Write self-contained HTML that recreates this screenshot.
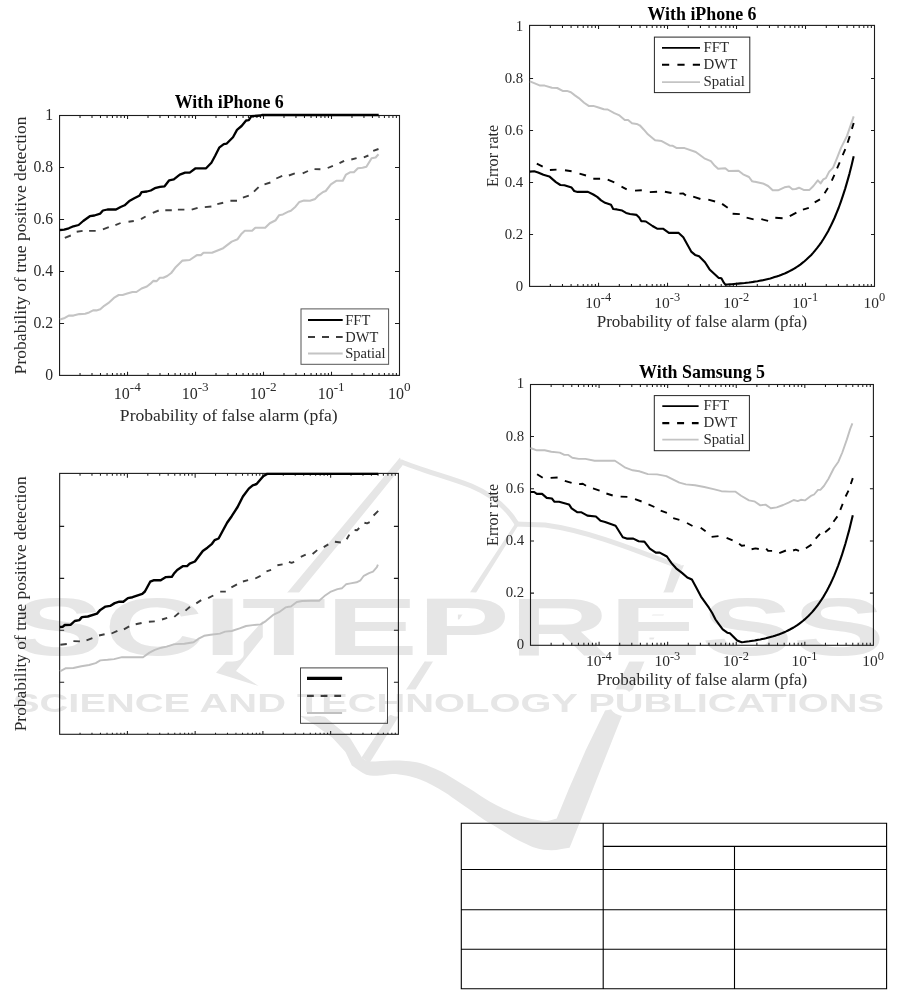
<!DOCTYPE html>
<html><head><meta charset="utf-8"><title>Figure page</title>
<style>
html,body{margin:0;padding:0;background:#fff;}
body{width:916px;height:990px;overflow:hidden;}
svg{display:block;filter:grayscale(1);font-family:"Liberation Serif",serif;}
</style></head><body>
<svg width="916" height="990" viewBox="0 0 916 990">
<rect width="916" height="990" fill="#fff"/>
<g fill="#e6e6e6" stroke="none">
<polygon points="400.0,457.5 290.3,589.0 260.3,623.8 216.0,672.7 258.6,686.0 236.0,671.0 267.0,632.0 302.0,589.0 350.0,530.6 402.5,465.5"/>
<path d="M400.5 461.5 C420 470 450 477.5 471.4 486 Q502 499 517 524" fill="none" stroke="#e6e6e6" stroke-width="5"/>
<polygon points="515.5,523.0 518.5,525.0 369.5,763.0 361.5,757.5"/>
<path d="M515 524 L545 525 C590 531 640 552 680 567" fill="none" stroke="#e6e6e6" stroke-width="5"/>
<polygon points="684.0,565.0 674.4,589.0 621.1,718.0 596.2,780.7 580.7,820.3 569.6,847.7 569.6,847.7 566.3,848.3 561.5,849.1 556.3,849.9 551.5,850.3 547.4,850.1 543.4,849.7 539.6,848.9 536.0,848.0 532.6,846.9 529.3,845.5 526.2,844.1 523.0,842.5 519.8,840.9 516.5,839.2 513.2,837.4 510.0,835.5 506.8,833.6 503.5,831.5 500.2,829.5 497.0,827.5 493.8,825.6 490.5,823.7 487.2,821.8 484.0,819.8 480.8,817.6 477.5,815.2 474.2,812.8 471.0,810.5 467.8,808.2 464.5,806.0 461.2,803.7 458.0,801.5 454.8,799.2 451.5,796.9 448.2,794.6 445.0,792.5 441.7,790.5 438.4,788.5 435.2,786.7 432.0,785.0 429.0,783.4 426.1,782.0 423.1,780.7 420.0,779.5 416.6,778.3 413.1,777.2 409.5,776.3 406.0,775.5 402.6,774.9 399.2,774.4 395.8,774.1 392.5,774.0 389.3,774.2 386.3,774.7 383.2,775.2 380.0,775.5 376.7,775.7 373.3,775.8 369.8,775.5 366.3,774.7 362.4,772.8 358.2,770.0 354.4,767.3 351.8,765.5 345.5,751.9 332.4,737.8 316.0,725.7 300.0,716.0 324.0,716.0 336.8,726.8 349.9,737.8 361.9,757.4 365.0,760.0 365.7,760.3 366.7,760.8 368.3,761.3 371.0,761.5 375.5,761.4 381.3,761.1 387.3,760.7 392.5,760.5 396.4,760.5 399.7,760.6 402.8,760.7 406.0,761.0 409.5,761.3 413.1,761.8 416.6,762.3 420.0,763.0 423.1,763.9 426.1,765.0 429.0,766.2 432.0,767.5 435.2,768.8 438.4,770.3 441.7,771.8 445.0,773.5 448.2,775.4 451.5,777.4 454.8,779.5 458.0,781.5 461.2,783.5 464.5,785.5 467.8,787.5 471.0,789.5 474.2,791.6 477.5,793.8 480.8,795.9 484.0,798.0 487.2,800.0 490.5,801.9 493.8,803.8 497.0,805.5 500.2,807.1 503.5,808.7 506.8,810.1 510.0,811.5 513.2,812.9 516.5,814.2 519.8,815.4 523.0,816.5 526.3,817.5 529.6,818.4 532.9,819.2 536.0,819.8 538.9,820.3 541.7,820.8 544.4,821.0 547.0,821.0 549.7,820.6 552.5,819.8 555.0,819.0 556.7,818.5 568.7,789.3 585.9,749.8 601.4,718.0 665.0,589.0 672.0,567.0"/>
</g>
<g font-family="&quot;Liberation Sans&quot;,sans-serif" font-weight="bold" fill="#e6e6e6" stroke="#fff" stroke-linejoin="round" paint-order="stroke">
<text x="12" y="655" font-size="81" stroke-width="13" textLength="873" lengthAdjust="spacingAndGlyphs">SCITEPRESS</text>
<text x="13" y="711.5" font-size="25.8" stroke-width="9" textLength="871" lengthAdjust="spacingAndGlyphs">SCIENCE AND TECHNOLOGY PUBLICATIONS</text>
</g>
<rect x="59.56" y="115.50" width="339.94" height="259.90" fill="none" stroke="#1c1c1c" stroke-width="1.1"/>
<path d="M80.03 375.40 v-2.50 M80.03 115.50 v2.50 M92.00 375.40 v-2.50 M92.00 115.50 v2.50 M100.49 375.40 v-2.50 M100.49 115.50 v2.50 M107.08 375.40 v-2.50 M107.08 115.50 v2.50 M112.46 375.40 v-2.50 M112.46 115.50 v2.50 M117.02 375.40 v-2.50 M117.02 115.50 v2.50 M120.96 375.40 v-2.50 M120.96 115.50 v2.50 M124.44 375.40 v-2.50 M124.44 115.50 v2.50 M127.55 375.40 v-3.60 M127.55 115.50 v3.60 M148.01 375.40 v-2.50 M148.01 115.50 v2.50 M159.99 375.40 v-2.50 M159.99 115.50 v2.50 M168.48 375.40 v-2.50 M168.48 115.50 v2.50 M175.07 375.40 v-2.50 M175.07 115.50 v2.50 M180.45 375.40 v-2.50 M180.45 115.50 v2.50 M185.00 375.40 v-2.50 M185.00 115.50 v2.50 M188.95 375.40 v-2.50 M188.95 115.50 v2.50 M192.43 375.40 v-2.50 M192.43 115.50 v2.50 M195.54 375.40 v-3.60 M195.54 115.50 v3.60 M216.00 375.40 v-2.50 M216.00 115.50 v2.50 M227.97 375.40 v-2.50 M227.97 115.50 v2.50 M236.47 375.40 v-2.50 M236.47 115.50 v2.50 M243.06 375.40 v-2.50 M243.06 115.50 v2.50 M248.44 375.40 v-2.50 M248.44 115.50 v2.50 M252.99 375.40 v-2.50 M252.99 115.50 v2.50 M256.94 375.40 v-2.50 M256.94 115.50 v2.50 M260.41 375.40 v-2.50 M260.41 115.50 v2.50 M263.52 375.40 v-3.60 M263.52 115.50 v3.60 M283.99 375.40 v-2.50 M283.99 115.50 v2.50 M295.96 375.40 v-2.50 M295.96 115.50 v2.50 M304.46 375.40 v-2.50 M304.46 115.50 v2.50 M311.05 375.40 v-2.50 M311.05 115.50 v2.50 M316.43 375.40 v-2.50 M316.43 115.50 v2.50 M320.98 375.40 v-2.50 M320.98 115.50 v2.50 M324.92 375.40 v-2.50 M324.92 115.50 v2.50 M328.40 375.40 v-2.50 M328.40 115.50 v2.50 M331.51 375.40 v-3.60 M331.51 115.50 v3.60 M351.98 375.40 v-2.50 M351.98 115.50 v2.50 M363.95 375.40 v-2.50 M363.95 115.50 v2.50 M372.44 375.40 v-2.50 M372.44 115.50 v2.50 M379.03 375.40 v-2.50 M379.03 115.50 v2.50 M384.42 375.40 v-2.50 M384.42 115.50 v2.50 M388.97 375.40 v-2.50 M388.97 115.50 v2.50 M392.91 375.40 v-2.50 M392.91 115.50 v2.50 M396.39 375.40 v-2.50 M396.39 115.50 v2.50 M59.56 323.40 h4.5 M399.50 323.40 h-4.5 M59.56 271.40 h4.5 M399.50 271.40 h-4.5 M59.56 219.40 h4.5 M399.50 219.40 h-4.5 M59.56 167.40 h4.5 M399.50 167.40 h-4.5" stroke="#1c1c1c" stroke-width="1.05" fill="none"/>
<text x="229.3" y="107.8" font-size="17.9" font-weight="bold" text-anchor="middle" fill="#000">With iPhone 6</text>
<text x="113.8" y="398.9" font-size="16.0" fill="#2a2a2a">10<tspan dy="-8.2" font-size="13.2">-4</tspan></text>
<text x="181.7" y="398.9" font-size="16.0" fill="#2a2a2a">10<tspan dy="-8.2" font-size="13.2">-3</tspan></text>
<text x="249.7" y="398.9" font-size="16.0" fill="#2a2a2a">10<tspan dy="-8.2" font-size="13.2">-2</tspan></text>
<text x="317.7" y="398.9" font-size="16.0" fill="#2a2a2a">10<tspan dy="-8.2" font-size="13.2">-1</tspan></text>
<text x="387.9" y="398.9" font-size="16.0" fill="#2a2a2a">10<tspan dy="-8.2" font-size="13.2">0</tspan></text>
<text x="228.8" y="421.2" font-size="17.6" text-anchor="middle" fill="#2a2a2a">Probability of false alarm (pfa)</text>
<text x="53.1" y="380.4" font-size="15.7" text-anchor="end" fill="#2a2a2a">0</text>
<text x="53.1" y="328.4" font-size="15.7" text-anchor="end" fill="#2a2a2a">0.2</text>
<text x="53.1" y="276.4" font-size="15.7" text-anchor="end" fill="#2a2a2a">0.4</text>
<text x="53.1" y="224.4" font-size="15.7" text-anchor="end" fill="#2a2a2a">0.6</text>
<text x="53.1" y="172.4" font-size="15.7" text-anchor="end" fill="#2a2a2a">0.8</text>
<text x="53.1" y="120.4" font-size="15.7" text-anchor="end" fill="#2a2a2a">1</text>
<text transform="translate(26.4 245.4) rotate(-90)" font-size="17.6" text-anchor="middle" fill="#2a2a2a">Probability of true positive detection</text>
<polyline points="59.9,319.6 64.8,317.9 68.8,315.6 73.4,315.6 79.3,314.1 85.2,313.8 89.1,312.4 93.1,310.4 96.4,310.4 100.3,309.3 104.2,305.8 108.2,303.2 111.5,300.2 114.7,297.3 118.7,295.0 122.6,295.0 127.2,293.6 132.5,292.0 136.4,292.0 141.6,288.5 146.9,286.5 150.2,283.9 153.2,280.9 156.7,281.1 159.8,277.8 163.3,277.8 167.2,276.0 171.2,273.0 173.8,269.7 175.9,266.9 182.5,260.6 189.7,260.0 196.9,255.1 200.9,255.1 203.5,252.8 212.0,252.8 223.2,248.2 231.7,241.6 237.6,239.2 241.6,233.7 244.8,230.7 252.1,230.7 255.3,227.8 265.2,227.8 269.8,223.2 275.7,220.2 279.0,215.3 282.9,214.4 288.8,211.4 290.9,210.7 295.5,206.7 299.4,201.9 304.0,200.6 309.9,200.8 315.2,198.9 318.5,195.3 323.1,192.0 325.7,191.0 330.9,184.4 336.2,180.8 342.8,180.8 346.0,174.6 350.0,172.3 353.9,172.3 357.9,168.3 362.5,167.8 366.4,166.7 371.6,158.2 375.6,157.5 378.5,154.2" fill="none" stroke="#c4c4c4" stroke-width="2.10" stroke-linejoin="round" stroke-linecap="butt"/>
<path d="M64.8 237.9 L70.8 235.5 M76.7 231.8 L82.6 230.9 M89.1 230.9 L95.7 230.9 M102.9 229.3 L108.8 227.2 M115.4 225.2 L120.6 223.0 M128.5 221.7 L133.8 221.0 M141.0 219.1 L145.6 216.5 M152.8 212.8 L158.7 210.5 M165.3 210.3 L171.8 210.3 M177.9 209.6 L184.4 209.6 M191.7 209.6 L197.6 207.8 M204.8 207.1 L211.4 206.5 M217.3 204.1 L223.2 202.8 M230.4 200.8 L237.0 200.8 M242.9 197.6 L248.8 195.6 M254.0 191.6 L258.6 187.1 M264.5 184.4 L270.4 182.5 M276.3 178.5 L282.2 175.9 M288.9 175.5 L294.8 173.3 M302.7 173.3 L308.0 171.0 M314.5 169.1 L320.4 169.3 M327.7 168.0 L332.9 165.8 M339.5 163.2 L344.1 160.8 M351.3 159.5 L356.6 158.2 M363.8 157.3 L368.4 155.5 M373.2 150.9 L378.5 149.0" fill="none" stroke="#3d3d3d" stroke-width="1.90" stroke-linejoin="round"/>
<polyline points="59.9,230.0 64.2,229.6 68.8,228.3 73.4,226.3 78.6,225.0 83.2,221.0 89.8,216.2 94.4,215.5 100.3,213.6 102.9,210.5 107.5,209.5 116.0,209.5 120.6,207.0 124.6,205.3 129.8,200.7 133.8,198.5 139.7,195.4 141.6,192.2 146.9,191.5 150.8,190.5 154.8,188.2 160.0,186.9 164.6,186.3 169.2,180.3 173.8,179.4 179.8,174.6 185.1,172.6 189.7,172.6 195.6,168.3 206.1,168.3 211.4,162.8 215.3,155.5 219.2,147.7 223.8,144.1 226.5,143.7 233.0,137.2 237.0,129.9 241.6,126.0 246.1,120.5 248.8,120.1 251.4,116.2 260.6,115.5 261.9,115.0 290.0,115.0 378.7,115.0" fill="none" stroke="#000" stroke-width="2.30" stroke-linejoin="round" stroke-linecap="butt"/>
<rect x="301.0" y="308.9" width="87.6" height="55.4" fill="none" stroke="#555" stroke-width="1"/>
<line x1="308.0" y1="320.0" x2="342.7" y2="320.0" stroke="#000" stroke-width="2.00"/>
<line x1="308.0" y1="337.0" x2="342.7" y2="337.0" stroke="#3d3d3d" stroke-width="2.00" stroke-dasharray="7 7"/>
<line x1="308.0" y1="353.6" x2="342.7" y2="353.6" stroke="#c4c4c4" stroke-width="2.00"/>
<text x="345.3" y="324.5" font-size="14.5" fill="#2a2a2a">FFT</text>
<text x="345.3" y="341.5" font-size="14.5" fill="#2a2a2a">DWT</text>
<text x="345.3" y="358.0" font-size="14.5" fill="#2a2a2a">Spatial</text>
<rect x="59.65" y="473.40" width="338.75" height="260.90" fill="none" stroke="#1c1c1c" stroke-width="1.1"/>
<path d="M80.04 734.30 v-1.50 M80.04 473.40 v2.40 M91.97 734.30 v-1.50 M91.97 473.40 v2.40 M100.44 734.30 v-1.50 M100.44 473.40 v2.40 M107.01 734.30 v-1.50 M107.01 473.40 v2.40 M112.37 734.30 v-1.50 M112.37 473.40 v2.40 M116.91 734.30 v-1.50 M116.91 473.40 v2.40 M120.83 734.30 v-1.50 M120.83 473.40 v2.40 M124.30 734.30 v-1.50 M124.30 473.40 v2.40 M127.40 734.30 v-3.30 M127.40 473.40 v4.40 M147.79 734.30 v-1.50 M147.79 473.40 v2.40 M159.72 734.30 v-1.50 M159.72 473.40 v2.40 M168.19 734.30 v-1.50 M168.19 473.40 v2.40 M174.76 734.30 v-1.50 M174.76 473.40 v2.40 M180.12 734.30 v-1.50 M180.12 473.40 v2.40 M184.66 734.30 v-1.50 M184.66 473.40 v2.40 M188.58 734.30 v-1.50 M188.58 473.40 v2.40 M192.05 734.30 v-1.50 M192.05 473.40 v2.40 M195.15 734.30 v-3.30 M195.15 473.40 v4.40 M215.54 734.30 v-1.50 M215.54 473.40 v2.40 M227.47 734.30 v-1.50 M227.47 473.40 v2.40 M235.94 734.30 v-1.50 M235.94 473.40 v2.40 M242.51 734.30 v-1.50 M242.51 473.40 v2.40 M247.87 734.30 v-1.50 M247.87 473.40 v2.40 M252.41 734.30 v-1.50 M252.41 473.40 v2.40 M256.33 734.30 v-1.50 M256.33 473.40 v2.40 M259.80 734.30 v-1.50 M259.80 473.40 v2.40 M262.90 734.30 v-3.30 M262.90 473.40 v4.40 M283.29 734.30 v-1.50 M283.29 473.40 v2.40 M295.22 734.30 v-1.50 M295.22 473.40 v2.40 M303.69 734.30 v-1.50 M303.69 473.40 v2.40 M310.26 734.30 v-1.50 M310.26 473.40 v2.40 M315.62 734.30 v-1.50 M315.62 473.40 v2.40 M320.16 734.30 v-1.50 M320.16 473.40 v2.40 M324.08 734.30 v-1.50 M324.08 473.40 v2.40 M327.55 734.30 v-1.50 M327.55 473.40 v2.40 M330.65 734.30 v-3.30 M330.65 473.40 v4.40 M351.04 734.30 v-1.50 M351.04 473.40 v2.40 M362.97 734.30 v-1.50 M362.97 473.40 v2.40 M371.44 734.30 v-1.50 M371.44 473.40 v2.40 M378.01 734.30 v-1.50 M378.01 473.40 v2.40 M383.37 734.30 v-1.50 M383.37 473.40 v2.40 M387.91 734.30 v-1.50 M387.91 473.40 v2.40 M391.83 734.30 v-1.50 M391.83 473.40 v2.40 M395.30 734.30 v-1.50 M395.30 473.40 v2.40 M59.65 682.32 h4.5 M398.40 682.32 h-4.5 M59.65 630.34 h4.5 M398.40 630.34 h-4.5 M59.65 578.36 h4.5 M398.40 578.36 h-4.5 M59.65 526.38 h4.5 M398.40 526.38 h-4.5" stroke="#1c1c1c" stroke-width="1.05" fill="none"/>
<text transform="translate(26.4 603.8) rotate(-90)" font-size="17.4" text-anchor="middle" fill="#2a2a2a">Probability of true positive detection</text>
<polyline points="59.9,671.3 65.5,668.3 73.4,668.0 81.3,666.3 89.1,665.0 95.7,663.1 100.3,660.4 107.5,659.8 114.1,659.1 122.0,657.2 133.8,657.2 143.0,657.2 149.5,652.6 154.8,649.9 161.3,647.7 166.6,646.6 173.8,644.4 175.9,644.1 184.4,643.7 193.6,642.2 198.2,638.9 204.1,635.8 210.7,634.7 219.9,633.6 225.1,631.6 231.7,631.0 239.6,628.4 246.1,626.0 252.7,625.1 260.6,624.4 265.8,621.1 273.7,614.6 279.0,612.2 285.5,607.4 288.8,606.8 290.9,606.6 296.8,602.0 302.1,601.0 311.3,600.7 319.1,600.7 324.4,596.1 330.3,591.9 337.5,589.1 342.1,588.2 346.0,584.3 350.6,583.4 356.6,582.3 360.5,580.3 363.8,575.8 369.0,573.1 373.0,571.6 376.9,567.2 377.9,564.6" fill="none" stroke="#c0c0c0" stroke-width="1.90" stroke-linejoin="round" stroke-linecap="butt"/>
<path d="M60.3 644.7 L66.8 644.0 M73.4 641.1 L79.9 641.4 M86.5 640.3 L92.4 638.1 M99.0 635.5 L104.6 634.2 M111.5 633.5 L117.4 630.9 M123.9 629.3 L129.2 626.3 M135.7 624.3 L141.6 623.0 M148.9 621.7 L154.8 621.4 M162.0 619.5 L167.2 617.8 M174.3 616.9 L178.9 613.0 M185.5 610.6 L190.0 606.7 M196.3 603.4 L201.2 600.1 M208.1 598.2 L213.3 595.5 M220.2 591.6 L225.8 591.6 M231.4 587.3 L237.0 584.4 M242.9 581.5 L248.1 580.2 M255.3 578.5 L260.6 575.9 M266.5 571.3 L271.1 569.9 M277.4 565.3 L282.6 564.4 M288.9 561.9 L291.6 562.8 L294.2 561.9 M300.8 556.9 L305.7 554.7 M312.6 554.0 L317.2 550.1 M323.7 547.1 L328.3 544.4 M334.9 541.8 L340.8 542.5 M346.7 539.2 L349.3 534.6 M354.6 530.0 L357.2 530.2 L359.2 528.0 M364.4 522.8 L367.1 523.4 L369.7 522.1 M373.6 515.5 L378.2 510.9" fill="none" stroke="#3d3d3d" stroke-width="1.90" stroke-linejoin="round"/>
<polyline points="59.9,627.0 62.9,626.7 64.8,625.0 70.8,624.7 74.7,621.0 79.3,620.1 81.9,617.1 87.8,616.5 97.0,613.6 100.3,609.9 105.5,606.6 110.1,605.9 114.7,603.1 119.3,601.7 123.3,601.7 127.9,598.1 132.5,597.2 142.3,593.9 144.9,591.5 150.2,581.7 153.5,580.3 160.7,580.3 165.9,577.1 171.8,576.8 173.8,573.8 177.2,570.0 183.1,566.1 187.1,566.1 189.7,563.7 194.9,561.5 202.8,551.0 207.4,547.7 212.0,543.8 214.6,540.1 218.6,538.5 222.5,531.3 227.1,522.8 231.7,516.2 237.6,507.0 242.9,496.5 248.8,488.6 252.7,485.3 256.6,484.0 263.2,476.2 267.2,473.9 290.0,473.9 378.2,473.9" fill="none" stroke="#000" stroke-width="2.40" stroke-linejoin="round" stroke-linecap="butt"/>
<rect x="300.5" y="667.9" width="87.0" height="55.4" fill="none" stroke="#444" stroke-width="1"/>
<line x1="307.0" y1="678.3" x2="342.1" y2="678.3" stroke="#000" stroke-width="3.30"/>
<line x1="307.0" y1="695.8" x2="342.1" y2="695.8" stroke="#3d3d3d" stroke-width="2.30" stroke-dasharray="6.8 6.85"/>
<line x1="307.0" y1="712.9" x2="342.1" y2="712.9" stroke="#c0c0c0" stroke-width="2.00"/>
<rect x="529.56" y="25.40" width="344.94" height="261.00" fill="none" stroke="#1c1c1c" stroke-width="1.1"/>
<path d="M550.33 286.40 v-2.50 M550.33 25.40 v2.50 M562.48 286.40 v-2.50 M562.48 25.40 v2.50 M571.09 286.40 v-2.50 M571.09 25.40 v2.50 M577.78 286.40 v-2.50 M577.78 25.40 v2.50 M583.24 286.40 v-2.50 M583.24 25.40 v2.50 M587.86 286.40 v-2.50 M587.86 25.40 v2.50 M591.86 286.40 v-2.50 M591.86 25.40 v2.50 M595.39 286.40 v-2.50 M595.39 25.40 v2.50 M598.55 286.40 v-3.60 M598.55 25.40 v3.60 M619.32 286.40 v-2.50 M619.32 25.40 v2.50 M631.46 286.40 v-2.50 M631.46 25.40 v2.50 M640.08 286.40 v-2.50 M640.08 25.40 v2.50 M646.77 286.40 v-2.50 M646.77 25.40 v2.50 M652.23 286.40 v-2.50 M652.23 25.40 v2.50 M656.85 286.40 v-2.50 M656.85 25.40 v2.50 M660.85 286.40 v-2.50 M660.85 25.40 v2.50 M664.38 286.40 v-2.50 M664.38 25.40 v2.50 M667.54 286.40 v-3.60 M667.54 25.40 v3.60 M688.30 286.40 v-2.50 M688.30 25.40 v2.50 M700.45 286.40 v-2.50 M700.45 25.40 v2.50 M709.07 286.40 v-2.50 M709.07 25.40 v2.50 M715.76 286.40 v-2.50 M715.76 25.40 v2.50 M721.22 286.40 v-2.50 M721.22 25.40 v2.50 M725.84 286.40 v-2.50 M725.84 25.40 v2.50 M729.84 286.40 v-2.50 M729.84 25.40 v2.50 M733.37 286.40 v-2.50 M733.37 25.40 v2.50 M736.52 286.40 v-3.60 M736.52 25.40 v3.60 M757.29 286.40 v-2.50 M757.29 25.40 v2.50 M769.44 286.40 v-2.50 M769.44 25.40 v2.50 M778.06 286.40 v-2.50 M778.06 25.40 v2.50 M784.74 286.40 v-2.50 M784.74 25.40 v2.50 M790.21 286.40 v-2.50 M790.21 25.40 v2.50 M794.83 286.40 v-2.50 M794.83 25.40 v2.50 M798.83 286.40 v-2.50 M798.83 25.40 v2.50 M802.36 286.40 v-2.50 M802.36 25.40 v2.50 M805.51 286.40 v-3.60 M805.51 25.40 v3.60 M826.28 286.40 v-2.50 M826.28 25.40 v2.50 M838.43 286.40 v-2.50 M838.43 25.40 v2.50 M847.05 286.40 v-2.50 M847.05 25.40 v2.50 M853.73 286.40 v-2.50 M853.73 25.40 v2.50 M859.20 286.40 v-2.50 M859.20 25.40 v2.50 M863.81 286.40 v-2.50 M863.81 25.40 v2.50 M867.81 286.40 v-2.50 M867.81 25.40 v2.50 M871.34 286.40 v-2.50 M871.34 25.40 v2.50 M529.56 234.40 h3.5 M874.50 234.40 h-3.5 M529.56 182.40 h3.5 M874.50 182.40 h-3.5 M529.56 130.40 h3.5 M874.50 130.40 h-3.5 M529.56 78.40 h3.5 M874.50 78.40 h-3.5" stroke="#1c1c1c" stroke-width="1.05" fill="none"/>
<text x="702.0" y="19.7" font-size="17.9" font-weight="bold" text-anchor="middle" fill="#000">With iPhone 6</text>
<text x="585.3" y="307.5" font-size="15.5" fill="#2a2a2a">10<tspan dy="-6.2" font-size="12.4">-4</tspan></text>
<text x="654.3" y="307.5" font-size="15.5" fill="#2a2a2a">10<tspan dy="-6.2" font-size="12.4">-3</tspan></text>
<text x="723.3" y="307.5" font-size="15.5" fill="#2a2a2a">10<tspan dy="-6.2" font-size="12.4">-2</tspan></text>
<text x="792.3" y="307.5" font-size="15.5" fill="#2a2a2a">10<tspan dy="-6.2" font-size="12.4">-1</tspan></text>
<text x="863.4" y="307.5" font-size="15.5" fill="#2a2a2a">10<tspan dy="-6.2" font-size="12.4">0</tspan></text>
<text x="702.0" y="326.8" font-size="17.0" text-anchor="middle" fill="#2a2a2a">Probability of false alarm (pfa)</text>
<text x="523.2" y="291.3" font-size="14.8" text-anchor="end" fill="#2a2a2a">0</text>
<text x="523.2" y="239.3" font-size="14.8" text-anchor="end" fill="#2a2a2a">0.2</text>
<text x="523.2" y="187.3" font-size="14.8" text-anchor="end" fill="#2a2a2a">0.4</text>
<text x="523.2" y="135.3" font-size="14.8" text-anchor="end" fill="#2a2a2a">0.6</text>
<text x="523.2" y="83.3" font-size="14.8" text-anchor="end" fill="#2a2a2a">0.8</text>
<text x="523.2" y="31.3" font-size="14.8" text-anchor="end" fill="#2a2a2a">1</text>
<text transform="translate(497.8 155.9) rotate(-90)" font-size="16.1" text-anchor="middle" fill="#2a2a2a">Error rate</text>
<polyline points="529.9,81.3 534.8,83.4 540.1,85.6 544.7,85.6 551.9,87.8 557.2,88.0 563.1,91.1 567.0,90.9 570.9,92.2 574.9,95.4 578.8,98.1 584.1,102.7 588.7,105.9 593.3,105.9 598.5,107.5 603.8,109.2 607.7,109.5 614.3,113.2 618.9,115.1 624.8,120.0 628.1,120.0 632.0,123.3 636.6,123.9 639.2,125.2 640.0,125.5 643.9,129.7 647.9,134.3 655.1,140.2 661.7,141.1 669.5,145.4 672.8,145.8 676.8,148.1 684.6,148.1 695.8,152.0 704.3,158.3 710.9,161.2 714.8,165.8 718.1,168.7 725.3,168.2 728.6,171.0 738.5,170.7 743.1,174.3 749.0,177.0 752.2,181.3 754.2,181.7 755.0,181.7 762.9,183.4 768.1,186.0 772.7,190.3 778.0,190.3 784.5,187.3 789.1,186.6 792.4,189.3 795.7,189.0 799.0,187.7 803.6,189.9 809.5,189.9 813.4,186.0 817.8,180.3 820.6,183.4 823.3,179.4 825.9,178.1 829.2,171.6 833.1,167.6 837.1,157.8 841.0,147.9 846.9,136.1 850.8,124.9 853.7,116.4" fill="none" stroke="#c2c2c2" stroke-width="2.00" stroke-linejoin="round" stroke-linecap="butt"/>
<path d="M536.8 163.7 L542.7 166.6 M549.9 170.0 L556.5 169.6 M565.0 170.3 L571.6 171.3 M579.5 173.6 L586.0 175.5 M593.3 178.8 L600.1 178.8 M607.7 179.7 L614.3 182.4 M621.5 186.7 L626.7 189.3 M635.0 190.6 L641.8 190.2 M649.8 192.1 L657.1 191.7 M664.9 191.7 L671.5 193.0 M679.4 193.6 L683.3 193.4 L685.9 195.6 M693.2 196.6 L700.4 199.0 M708.3 199.7 L715.1 201.5 M722.1 203.9 L727.7 207.8 M732.6 213.7 L739.8 214.1 M746.6 217.7 L753.6 219.4 M761.3 219.2 L768.1 220.8 M775.3 217.8 L782.6 218.2 M789.8 216.2 L796.4 212.6 M802.9 209.6 L808.8 207.9 M814.7 202.4 L820.0 199.4 M824.6 193.2 L827.9 188.0 M831.8 180.7 L834.4 174.8 M837.1 168.3 L839.7 162.4 M842.7 155.1 L845.3 149.2 M847.6 142.7 L849.8 136.1 M851.9 128.9 L853.7 123.0" fill="none" stroke="#000" stroke-width="1.90" stroke-linejoin="round"/>
<polyline points="529.9,171.6 534.2,171.3 538.1,172.5 543.4,174.8 549.3,176.4 555.9,182.1 560.4,185.0 564.4,185.3 571.6,187.6 574.2,191.0 577.5,191.9 588.0,191.9 593.3,194.5 597.2,196.9 601.1,200.4 605.1,202.8 611.0,204.8 613.2,209.0 616.9,209.4 622.2,210.6 626.1,212.9 630.0,214.0 636.6,214.9 639.2,217.5 641.2,221.1 643.8,221.2 645.9,221.5 652.5,226.0 657.1,228.7 663.0,228.7 668.9,232.9 678.7,232.9 683.3,237.2 691.2,251.6 695.1,254.9 699.1,256.2 705.0,262.2 709.6,269.4 718.8,277.9 721.4,278.2 724.0,282.9 725.4,284.6 727.5,284.5 729.7,284.3 731.8,284.2 734.0,284.0 736.1,283.8 738.2,283.6 740.4,283.4 742.5,283.2 744.7,283.0 746.8,282.7 748.9,282.5 751.1,282.2 753.2,281.9 755.3,281.5 757.5,281.2 759.6,280.8 761.8,280.4 763.9,279.9 766.0,279.4 768.2,278.9 770.3,278.4 772.5,277.8 774.6,277.1 776.7,276.4 778.9,275.7 781.0,274.9 783.2,274.1 785.3,273.2 787.4,272.2 789.6,271.1 791.7,270.0 793.8,268.8 796.0,267.5 798.1,266.1 800.3,264.6 802.4,262.9 804.5,261.2 806.7,259.3 808.8,257.3 811.0,255.2 813.1,252.9 815.2,250.4 817.4,247.7 819.5,244.9 821.7,241.8 823.8,238.5 825.9,235.0 828.1,231.2 830.2,227.1 832.3,222.7 834.5,218.0 836.6,212.9 838.8,207.5 840.9,201.6 843.0,195.3 845.2,188.6 847.3,181.4 849.5,173.6 851.6,165.3 853.7,156.3" fill="none" stroke="#000" stroke-width="2.10" stroke-linejoin="round" stroke-linecap="butt"/>
<rect x="654.4" y="37.1" width="95.4" height="55.5" fill="none" stroke="#262626" stroke-width="1"/>
<line x1="662.0" y1="47.8" x2="700.0" y2="47.8" stroke="#000" stroke-width="1.80"/>
<line x1="662.0" y1="64.8" x2="700.0" y2="64.8" stroke="#000" stroke-width="2.10" stroke-dasharray="7.2 8.2"/>
<line x1="662.0" y1="82.1" x2="700.0" y2="82.1" stroke="#c4c4c4" stroke-width="1.80"/>
<text x="703.5" y="52.1" font-size="14.9" fill="#2a2a2a">FFT</text>
<text x="703.5" y="68.8" font-size="14.9" fill="#2a2a2a">DWT</text>
<text x="703.5" y="86.2" font-size="14.9" fill="#2a2a2a">Spatial</text>
<rect x="530.50" y="384.50" width="342.90" height="260.80" fill="none" stroke="#1c1c1c" stroke-width="1.1"/>
<path d="M551.14 645.30 v-2.50 M551.14 384.50 v2.50 M563.22 645.30 v-2.50 M563.22 384.50 v2.50 M571.79 645.30 v-2.50 M571.79 384.50 v2.50 M578.44 645.30 v-2.50 M578.44 384.50 v2.50 M583.87 645.30 v-2.50 M583.87 384.50 v2.50 M588.46 645.30 v-2.50 M588.46 384.50 v2.50 M592.43 645.30 v-2.50 M592.43 384.50 v2.50 M595.94 645.30 v-2.50 M595.94 384.50 v2.50 M599.08 645.30 v-3.60 M599.08 384.50 v3.60 M619.72 645.30 v-2.50 M619.72 384.50 v2.50 M631.80 645.30 v-2.50 M631.80 384.50 v2.50 M640.37 645.30 v-2.50 M640.37 384.50 v2.50 M647.02 645.30 v-2.50 M647.02 384.50 v2.50 M652.45 645.30 v-2.50 M652.45 384.50 v2.50 M657.04 645.30 v-2.50 M657.04 384.50 v2.50 M661.01 645.30 v-2.50 M661.01 384.50 v2.50 M664.52 645.30 v-2.50 M664.52 384.50 v2.50 M667.66 645.30 v-3.60 M667.66 384.50 v3.60 M688.30 645.30 v-2.50 M688.30 384.50 v2.50 M700.38 645.30 v-2.50 M700.38 384.50 v2.50 M708.95 645.30 v-2.50 M708.95 384.50 v2.50 M715.60 645.30 v-2.50 M715.60 384.50 v2.50 M721.03 645.30 v-2.50 M721.03 384.50 v2.50 M725.62 645.30 v-2.50 M725.62 384.50 v2.50 M729.59 645.30 v-2.50 M729.59 384.50 v2.50 M733.10 645.30 v-2.50 M733.10 384.50 v2.50 M736.24 645.30 v-3.60 M736.24 384.50 v3.60 M756.88 645.30 v-2.50 M756.88 384.50 v2.50 M768.96 645.30 v-2.50 M768.96 384.50 v2.50 M777.53 645.30 v-2.50 M777.53 384.50 v2.50 M784.18 645.30 v-2.50 M784.18 384.50 v2.50 M789.61 645.30 v-2.50 M789.61 384.50 v2.50 M794.20 645.30 v-2.50 M794.20 384.50 v2.50 M798.17 645.30 v-2.50 M798.17 384.50 v2.50 M801.68 645.30 v-2.50 M801.68 384.50 v2.50 M804.82 645.30 v-3.60 M804.82 384.50 v3.60 M825.46 645.30 v-2.50 M825.46 384.50 v2.50 M837.54 645.30 v-2.50 M837.54 384.50 v2.50 M846.11 645.30 v-2.50 M846.11 384.50 v2.50 M852.76 645.30 v-2.50 M852.76 384.50 v2.50 M858.19 645.30 v-2.50 M858.19 384.50 v2.50 M862.78 645.30 v-2.50 M862.78 384.50 v2.50 M866.75 645.30 v-2.50 M866.75 384.50 v2.50 M870.26 645.30 v-2.50 M870.26 384.50 v2.50 M530.50 593.10 h3.5 M873.40 593.10 h-3.5 M530.50 540.90 h3.5 M873.40 540.90 h-3.5 M530.50 488.70 h3.5 M873.40 488.70 h-3.5 M530.50 436.50 h3.5 M873.40 436.50 h-3.5" stroke="#1c1c1c" stroke-width="1.05" fill="none"/>
<text x="702.1" y="377.7" font-size="17.9" font-weight="bold" text-anchor="middle" fill="#000">With Samsung 5</text>
<text x="585.9" y="666.1" font-size="15.5" fill="#2a2a2a">10<tspan dy="-6.2" font-size="12.4">-4</tspan></text>
<text x="654.4" y="666.1" font-size="15.5" fill="#2a2a2a">10<tspan dy="-6.2" font-size="12.4">-3</tspan></text>
<text x="723.0" y="666.1" font-size="15.5" fill="#2a2a2a">10<tspan dy="-6.2" font-size="12.4">-2</tspan></text>
<text x="791.6" y="666.1" font-size="15.5" fill="#2a2a2a">10<tspan dy="-6.2" font-size="12.4">-1</tspan></text>
<text x="862.2" y="666.1" font-size="15.5" fill="#2a2a2a">10<tspan dy="-6.2" font-size="12.4">0</tspan></text>
<text x="702.0" y="685.4" font-size="17.0" text-anchor="middle" fill="#2a2a2a">Probability of false alarm (pfa)</text>
<text x="524.2" y="649.4" font-size="14.8" text-anchor="end" fill="#2a2a2a">0</text>
<text x="524.2" y="597.2" font-size="14.8" text-anchor="end" fill="#2a2a2a">0.2</text>
<text x="524.2" y="545.0" font-size="14.8" text-anchor="end" fill="#2a2a2a">0.4</text>
<text x="524.2" y="492.8" font-size="14.8" text-anchor="end" fill="#2a2a2a">0.6</text>
<text x="524.2" y="440.6" font-size="14.8" text-anchor="end" fill="#2a2a2a">0.8</text>
<text x="524.2" y="388.4" font-size="14.8" text-anchor="end" fill="#2a2a2a">1</text>
<text transform="translate(498.3 514.9) rotate(-90)" font-size="16.1" text-anchor="middle" fill="#2a2a2a">Error rate</text>
<polyline points="530.5,448.0 536.8,450.3 544.7,450.3 551.3,451.7 559.8,452.6 564.4,454.9 568.3,454.9 572.3,457.8 578.8,458.9 585.4,458.9 594.6,460.8 603.8,460.8 614.9,460.8 619.5,463.7 625.4,467.7 632.7,470.3 639.2,471.2 640.0,471.5 647.9,474.1 657.1,474.4 666.3,476.1 672.8,479.4 679.4,482.7 685.9,484.4 695.1,485.3 704.3,487.0 713.5,489.2 721.4,491.2 729.3,491.6 735.2,491.6 741.1,495.8 749.0,500.4 754.2,501.4 755.0,501.7 760.3,505.4 765.5,504.6 770.8,508.3 776.7,507.4 783.2,505.0 789.1,502.4 793.7,500.0 797.7,501.1 800.9,499.8 804.9,500.4 811.5,495.6 814.1,494.5 818.0,489.9 820.6,489.7 823.9,486.0 828.5,478.8 833.8,468.3 838.4,461.7 842.3,452.5 846.9,439.4 850.2,428.9 852.4,423.4" fill="none" stroke="#c0c0c0" stroke-width="1.90" stroke-linejoin="round" stroke-linecap="butt"/>
<path d="M537.1 474.2 L542.7 477.8 M550.6 477.9 L557.6 477.5 M564.8 480.8 L571.6 482.8 M579.1 484.1 L582.8 483.8 L586.0 485.7 M593.0 488.4 L599.6 490.6 M606.4 493.5 L612.7 495.5 M620.6 496.6 L627.4 496.9 M635.0 499.2 L641.6 501.5 M648.5 504.3 L654.4 507.0 M660.7 510.6 L666.9 512.9 M673.2 518.1 L679.4 519.8 M687.0 523.0 L692.5 526.0 M700.7 527.7 L705.6 531.2 M711.6 536.9 L718.5 536.1 M726.6 537.8 L732.6 540.4 M739.1 543.7 L741.7 545.7 L745.0 545.4 M751.6 549.2 L755.5 548.4 L758.8 549.0 M766.2 548.6 L768.1 550.9 L772.1 550.9 M779.3 553.2 L785.9 550.5 M793.1 550.5 L795.7 549.6 L799.0 550.9 M805.9 548.3 L811.5 544.6 M815.7 538.7 L820.0 533.9 M825.2 532.2 L830.1 528.0 M833.5 521.7 L837.4 516.4 M840.3 509.8 L842.7 503.9 M845.6 496.5 L848.5 490.6 M850.8 484.0 L852.8 478.1" fill="none" stroke="#000" stroke-width="1.90" stroke-linejoin="round"/>
<polyline points="530.5,492.0 534.2,492.0 536.8,493.9 542.1,493.9 546.7,497.9 551.9,498.5 554.5,501.8 559.1,501.8 569.0,504.4 571.6,508.4 577.5,512.3 581.5,512.3 587.4,515.6 595.9,516.5 600.5,520.8 605.1,521.9 615.6,525.8 622.8,537.2 626.7,538.6 633.3,538.6 638.6,541.2 643.8,541.6 644.6,541.8 649.8,548.6 655.8,552.6 659.7,552.6 666.9,556.5 671.5,563.1 676.1,568.3 682.0,572.9 687.3,577.5 691.9,579.5 696.5,588.0 701.0,596.6 708.9,607.7 712.2,613.0 715.5,619.5 718.8,624.1 722.7,629.4 727.3,632.7 729.9,633.3 737.2,640.5 740.4,641.8 741.8,642.2 743.7,642.0 745.5,641.7 747.4,641.5 749.2,641.3 751.1,641.0 752.9,640.7 754.7,640.5 756.6,640.1 758.4,639.8 760.3,639.5 762.1,639.1 764.0,638.7 765.8,638.3 767.7,637.8 769.5,637.3 771.4,636.8 773.2,636.3 775.1,635.7 776.9,635.1 778.8,634.4 780.6,633.7 782.5,633.0 784.3,632.2 786.2,631.4 788.0,630.5 789.9,629.5 791.7,628.5 793.6,627.5 795.4,626.3 797.3,625.1 799.1,623.8 801.0,622.4 802.8,621.0 804.7,619.4 806.5,617.7 808.4,616.0 810.2,614.1 812.1,612.1 813.9,610.0 815.8,607.7 817.6,605.3 819.5,602.7 821.3,600.0 823.2,597.1 825.0,594.0 826.9,590.7 828.7,587.3 830.6,583.5 832.4,579.6 834.3,575.4 836.1,570.9 838.0,566.1 839.8,561.1 841.7,555.7 843.5,549.9 845.4,543.8 847.2,537.3 849.1,530.4 850.9,523.0 852.8,515.2" fill="none" stroke="#000" stroke-width="2.10" stroke-linejoin="round" stroke-linecap="butt"/>
<rect x="654.3" y="395.6" width="95.1" height="55.1" fill="none" stroke="#262626" stroke-width="1"/>
<line x1="662.3" y1="406.1" x2="698.6" y2="406.1" stroke="#000" stroke-width="1.80"/>
<line x1="662.3" y1="423.1" x2="698.6" y2="423.1" stroke="#000" stroke-width="2.10" stroke-dasharray="7 7.8"/>
<line x1="662.3" y1="439.6" x2="698.6" y2="439.6" stroke="#c4c4c4" stroke-width="1.80"/>
<text x="703.4" y="410.4" font-size="14.9" fill="#2a2a2a">FFT</text>
<text x="703.4" y="427.4" font-size="14.9" fill="#2a2a2a">DWT</text>
<text x="703.4" y="443.8" font-size="14.9" fill="#2a2a2a">Spatial</text>
<path d="M461.3 823.3 H886.6 V988.8 H461.3 Z M603.2 823.3 V988.8 M734.5 846.4 V988.8 M603.2 846.4 H886.6 M461.3 869.5 H886.6 M461.3 909.7 H886.6 M461.3 949.3 H886.6" fill="none" stroke="#000" stroke-width="1.1"/>
</svg>
</body></html>
